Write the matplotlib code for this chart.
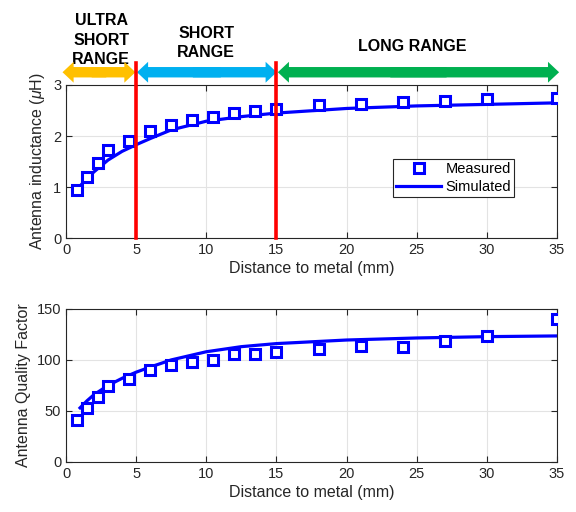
import matplotlib
matplotlib.use("Agg")
import matplotlib.pyplot as plt
from matplotlib.patches import FancyArrowPatch

plt.rcParams['font.family'] = ['Liberation Sans', 'DejaVu Sans']
plt.rcParams['mathtext.fontset'] = 'custom'
plt.rcParams['mathtext.it'] = 'Liberation Sans:italic'
plt.rcParams['mathtext.rm'] = 'Liberation Sans'

# Measured data
dist_meas = [0.75, 1.5, 2.25, 3, 4.5, 6, 7.5, 9, 10.5, 12, 13.5, 15, 18, 21, 24, 27, 30, 35]
L_meas = [0.94, 1.20, 1.47, 1.72, 1.91, 2.09, 2.22, 2.31, 2.38, 2.45, 2.49, 2.53, 2.60, 2.63, 2.66, 2.69, 2.72, 2.74]
Q_meas = [41, 53, 64, 74, 81, 90, 95, 98, 100, 106, 106, 108, 111, 114, 113, 119, 123, 140]

# Simulated data
dist_sim = [1, 1.5, 2, 3, 4, 5, 6, 7.5, 10, 12.5, 15, 20, 25, 30, 35]
L_sim = [1.02, 1.17, 1.30, 1.53, 1.70, 1.83, 1.95, 2.12, 2.29, 2.38, 2.45, 2.54, 2.59, 2.62, 2.65]
Q_sim = [53, 60, 66, 75, 82, 88, 93, 100, 108, 113, 116, 119.5, 121.5, 122.8, 123.5]

# Range annotations
ranges = [(0, 5), (5, 15), (15, 35)]
range_labels = ["ULTRA\nSHORT\nRANGE", "SHORT\nRANGE", "LONG RANGE"]
range_colors = ['#FFC000', '#00B0F0', '#00B050']
boundaries = [5, 15]

blue = (0, 0, 1)

fig = plt.figure(figsize=(5.76, 5.12), dpi=100)
ax1 = fig.add_axes([0.1146, 0.535, 0.8524, 0.299])
ax2 = fig.add_axes([0.1146, 0.0977, 0.8524, 0.299])

for ax in (ax1, ax2):
    ax.set_xlim(0, 35)
    ax.set_xticks([0, 5, 10, 15, 20, 25, 30, 35])
    ax.grid(True, color='#e3e3e3', linewidth=0.8)
    ax.set_axisbelow(True)
    ax.tick_params(direction='in', top=True, right=True, labelsize=10.5,
                   length=4, width=0.8, colors='#262626', labelcolor='#262626')
    for s in ax.spines.values():
        s.set_color('#262626')
        s.set_linewidth(0.8)
    ax.set_xlabel('Distance to metal (mm)', fontsize=11.5, color='#262626', labelpad=3)

# Top axes
ax1.plot(dist_meas, L_meas, 's', color=blue, markerfacecolor='white',
         markersize=7, markeredgewidth=2.2, label='Measured', zorder=3)
ax1.plot(dist_sim, L_sim, '-', color=blue, linewidth=2.3, label='Simulated', zorder=2)
ax1.set_ylim(0, 3)
ax1.set_yticks([0, 1, 2, 3])
ax1.set_ylabel(r'Antenna inductance ($\mu$H)', fontsize=11.5, color='#262626', labelpad=4)

for b in boundaries:
    ax1.plot([b, b], [0, 3.43], color='red', linewidth=2.6, clip_on=False, zorder=5)

arrow_y = 3.25
text_y = [3.88, 3.82, 3.76]
text_dx = [0, 0, -0.3]
pad_l = [-0.25, 0.06, 0.1]
pad_r = [-0.05, 0.02, 0.15]
for i, ((a, b), c) in enumerate(zip(ranges, range_colors)):
    x0, x1 = a + pad_l[i], b + pad_r[i]
    for start, end in ((x0 + 0.6 * (x1 - x0), x0), (x0 + 0.4 * (x1 - x0), x1)):
        p = FancyArrowPatch((start, arrow_y), (end, arrow_y),
                            arrowstyle='simple,head_length=0.8,head_width=1.5,tail_width=0.75',
                            mutation_scale=10, color=c, linewidth=0,
                            shrinkA=0, shrinkB=0, clip_on=False, zorder=4)
        ax1.add_patch(p)
    ax1.text(0.5 * (a + b) + text_dx[i], text_y[i], range_labels[i], ha='center',
             va='center', fontsize=11.5, fontweight='bold', linespacing=1.35,
             clip_on=False)

leg = ax1.legend(loc='upper left', bbox_to_anchor=(0.666, 0.516), fontsize=10.5,
                 frameon=True, fancybox=False, edgecolor='#262626', framealpha=1,
                 handlelength=3.1, borderpad=0.2, labelspacing=0.25, handletextpad=0.3,
                 borderaxespad=0)
leg.get_frame().set_linewidth(0.8)

# Bottom axes
ax2.plot(dist_meas, Q_meas, 's', color=blue, markerfacecolor='white',
         markersize=7, markeredgewidth=2.2, zorder=3)
ax2.plot(dist_sim, Q_sim, '-', color=blue, linewidth=2.3, zorder=2)
ax2.set_ylim(0, 150)
ax2.set_yticks([0, 50, 100, 150])
ax2.set_ylabel('Antenna Quality Factor', fontsize=11.5, color='#262626', labelpad=4)

fig.savefig('out.png', dpi=100)
